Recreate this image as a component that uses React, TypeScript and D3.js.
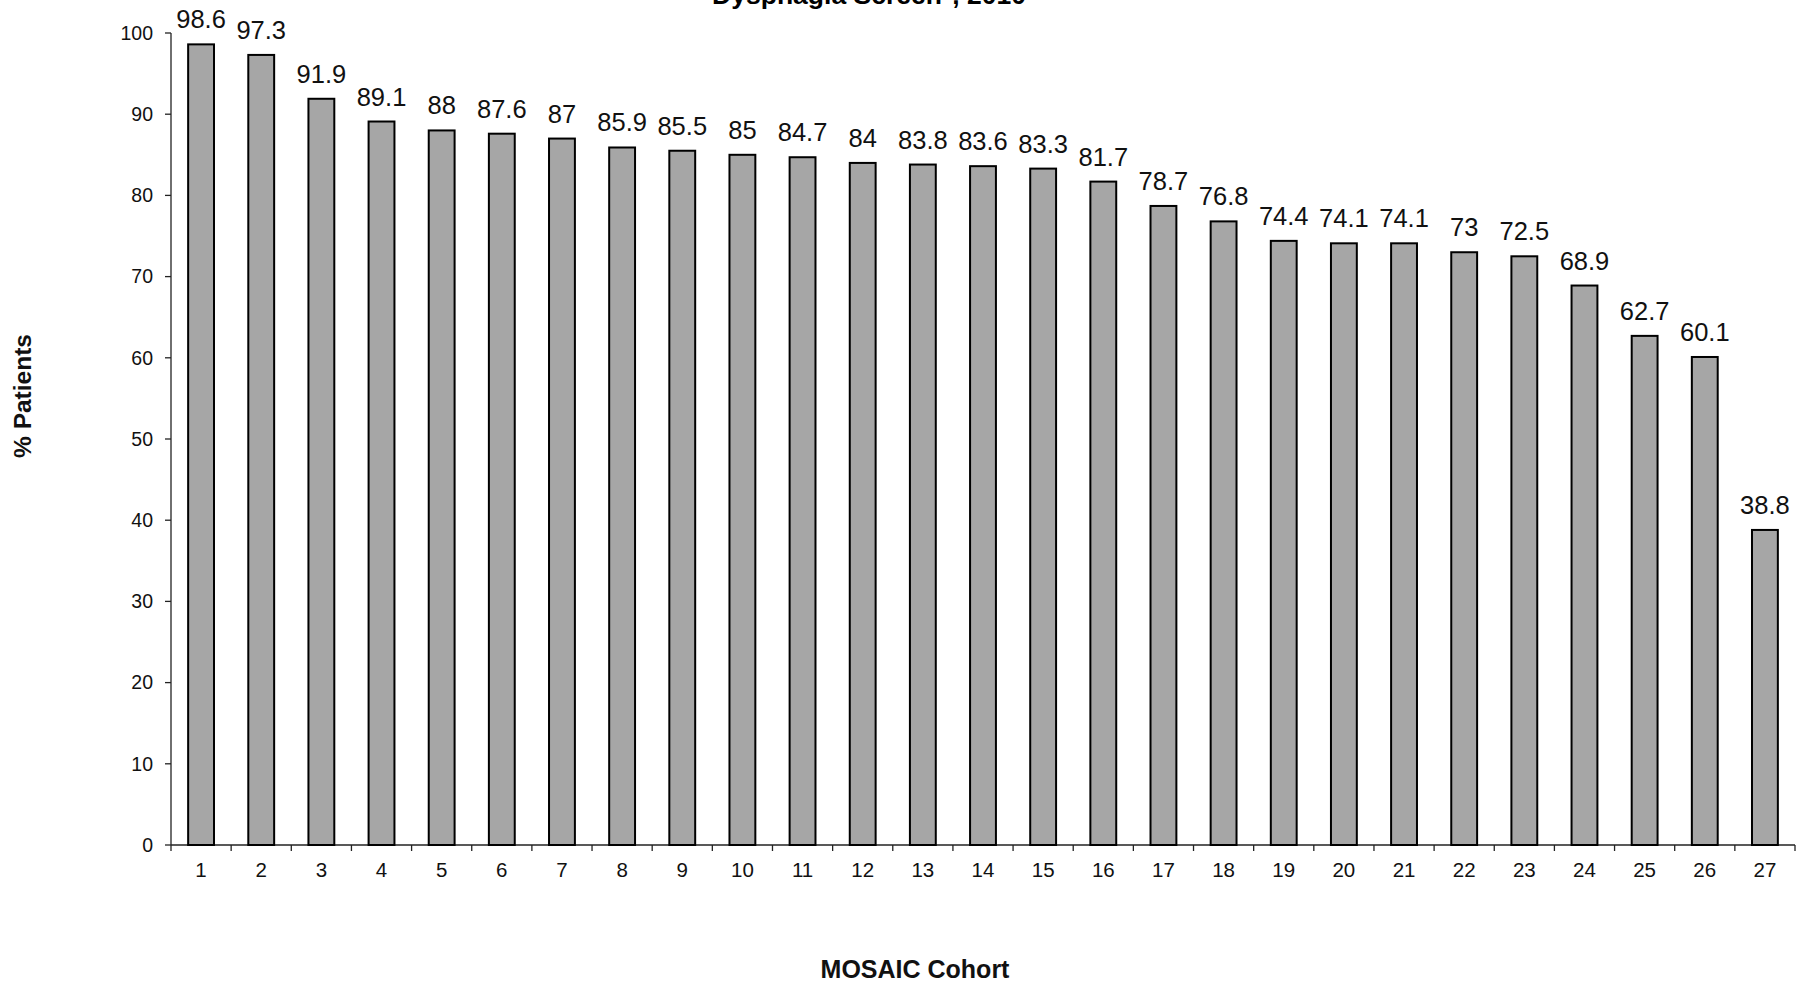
import React from "react";
import * as d3 from "d3";

const cohorts = ["1","2","3","4","5","6","7","8","9","10","11","12","13","14","15","16","17","18","19","20","21","22","23","24","25","26","27"];
const values = [98.6, 97.3, 91.9, 89.1, 88, 87.6, 87, 85.9, 85.5, 85, 84.7, 84, 83.8, 83.6, 83.3, 81.7, 78.7, 76.8, 74.4, 74.1, 74.1, 73, 72.5, 68.9, 62.7, 60.1, 38.8];
const yTicks = [0, 10, 20, 30, 40, 50, 60, 70, 80, 90, 100];
const title = "Dysphagia Screen*, 2010";
const xTitle = "MOSAIC Cohort";
const yTitle = "% Patients";

const W = 1810;
const H = 984;
const left = 171;
const right = 1795;
const top = 33;
const bottom = 845;
const FONT = "'Liberation Sans', Arial, sans-serif";

export default function App() {
  const x = d3.scaleBand<string>().domain(cohorts).range([left, right]).paddingInner(0.57).paddingOuter(0.285);
  const xb = d3.scaleBand<string>().domain(cohorts).range([left, right]);
  const y = d3.scaleLinear().domain([0, 100]).range([bottom, top]);
  const boundaries = [...cohorts.map((c) => xb(c) as number), right];

  return (
    <svg width={W} height={H} style={{ position: "absolute", left: 0, top: 0, background: "#fff" }} fontFamily={FONT}>
      <rect x={0} y={0} width={W} height={H} fill="#fff" />
      <text x={869} y={4} textAnchor="middle" fontSize={26.5} fontWeight="bold" fill="#000">{title}</text>

      {/* y axis */}
      <line x1={left} x2={left} y1={top} y2={bottom} stroke="#222" strokeWidth={1.3} />
      {yTicks.map((t) => (
        <g key={t}>
          <line x1={left - 6} x2={left} y1={y(t)} y2={y(t)} stroke="#222" strokeWidth={1.3} />
          <text x={153} y={y(t)} dy="0.35em" textAnchor="end" fontSize={19.5} fill="#111">{t}</text>
        </g>
      ))}

      {/* x axis */}
      <line x1={left} x2={right} y1={bottom} y2={bottom} stroke="#222" strokeWidth={1.3} />
      {boundaries.map((b, i) => (
        <line key={i} x1={b} x2={b} y1={bottom} y2={bottom + 6} stroke="#222" strokeWidth={1.3} />
      ))}
      {cohorts.map((c) => (
        <text key={c} x={(xb(c) as number) + xb.bandwidth() / 2} y={877} textAnchor="middle" fontSize={20.5} fill="#111">{c}</text>
      ))}

      {/* bars */}
      {cohorts.map((c, i) => (
        <g key={c}>
          <rect x={x(c)} y={y(values[i])} width={x.bandwidth()} height={bottom - y(values[i])} fill="#a6a6a6" stroke="#000" strokeWidth={2} />
          <text x={(x(c) as number) + x.bandwidth() / 2} y={y(values[i]) - 16} textAnchor="middle" fontSize={25.5} fill="#111">{values[i]}</text>
        </g>
      ))}

      <text x={915} y={978} textAnchor="middle" fontSize={25} fontWeight="bold" fill="#111">{xTitle}</text>
      <text transform={`translate(31, 396) rotate(-90)`} textAnchor="middle" fontSize={24.5} fontWeight="bold" fill="#111">{yTitle}</text>
    </svg>
  );
}
